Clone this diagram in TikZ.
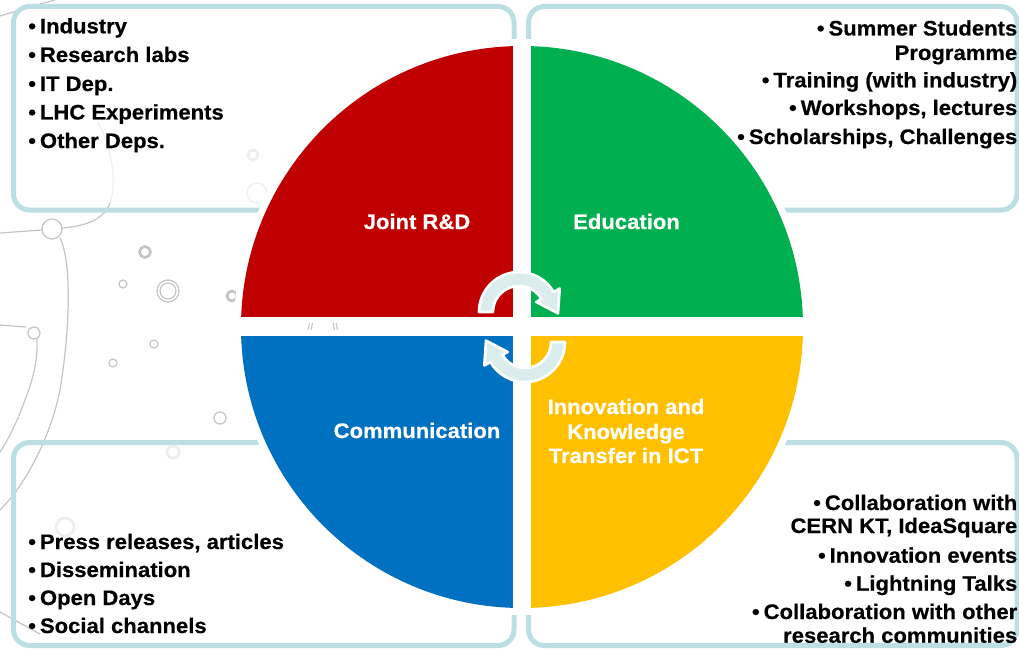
\documentclass[tikz,border=0pt]{standalone}
\usepackage{fontspec}
\setmainfont{Liberation Sans}[BoldFeatures={FakeStretch=1.05,FakeBold=0.5}]
\definecolor{qred}{HTML}{C00000}
\definecolor{qgreen}{HTML}{00B050}
\definecolor{qblue}{HTML}{0070C0}
\definecolor{qyellow}{HTML}{FFC000}
\definecolor{boxc}{HTML}{BBDFE2}
\definecolor{arrowc}{HTML}{DAECEC}
\definecolor{decoc}{HTML}{C4C4C4}
\definecolor{decofaint}{HTML}{EEEEEE}
\newcommand\labfont{\fontsize{15.75pt}{18pt}\selectfont\bfseries}
\newcommand\bulx{\textbullet\hspace{3pt}}
\begin{document}
\begin{tikzpicture}[x=0.75pt,y=-0.75pt,
  boxframe/.style={draw=boxc, line width=3.75pt, rounded corners=12pt},
  deco/.style={draw=decoc, line width=0.9pt},
  decothick/.style={draw=decoc, line width=2pt},
  decolight/.style={draw=decofaint, line width=2pt},
  bul/.style={font=\labfont, inner sep=0pt, text=black},
  qlab/.style={font=\labfont, inner sep=0pt, text=white, anchor=base},
  arrowsh/.style={fill=arrowc, draw=white, line width=2pt, line join=round}]
\useasboundingbox (0,0) rectangle (1019,649);

% background decoration
\draw[deco] (0,16) .. controls (20,10) and (40,4) .. (55,0);
\draw[deco] (0,233) -- (42,230);
\draw[deco] (52,229) circle[radius=10];
\draw[deco] (62,228) .. controls (85,226) and (104,220) .. (110,203);
\draw[draw=decofaint, line width=0.9pt] (110,203) .. controls (118,180) and (110,145) .. (98,122);
\draw[deco] (60,238) .. controls (72,262) and (70,330) .. (60,390) .. controls (52,430) and (30,480) .. (0,510);
\draw[deco] (0,325) -- (26,327);
\draw[deco] (34,333) circle[radius=6];
\draw[deco] (37,339) .. controls (38,360) and (33,380) .. (25,400) .. controls (18,420) and (8,440) .. (0,452);
\draw[deco] (0,612) -- (40,634);
\draw[decothick] (145,252) circle[radius=5.5];
\draw[deco] (123,284) circle[radius=4];
\draw[deco] (168,291) circle[radius=11];
\draw[deco] (168,291) circle[radius=8];
\draw[decothick] (232,296) circle[radius=5];
\draw[deco] (154,344) circle[radius=4];
\draw[deco] (113,363) circle[radius=4];
\draw[deco] (220,418) circle[radius=6];
\draw[decolight] (253,155) circle[radius=5];
\draw[draw=decofaint, line width=1pt] (257,193) circle[radius=10];
\draw[decolight] (173,452) circle[radius=6];
\draw[decolight] (65,527) circle[radius=9];

% frames
\draw[boxframe] (13.5,6.5) rectangle (514,210);
\draw[boxframe] (528.5,6.5) rectangle (1017,210);
\draw[boxframe] (13.5,442.5) rectangle (514,645.5);
\draw[boxframe] (528.5,442.5) rectangle (1017,645.5);

% circle
\fill[white] (522,327) circle[radius=288];
\fill[qred] (522,327) -- (241,327) arc[start angle=180, end angle=270, radius=281] -- cycle;
\fill[qgreen] (522,327) -- (522,46) arc[start angle=270, end angle=360, radius=281] -- cycle;
\fill[qyellow] (522,327) -- (803,327) arc[start angle=0, end angle=90, radius=281] -- cycle;
\fill[qblue] (522,327) -- (522,608) arc[start angle=90, end angle=180, radius=281] -- cycle;
\fill[white] (513.3,40) rectangle (530.7,614);
\fill[white] (232,317.3) rectangle (812,336);
\draw[decoc, line width=0.8pt] (308,330) -- (309.5,323) (311,330) -- (312.5,323);
\draw[decoc, line width=0.8pt] (333,323) -- (334.5,330) (336,323) -- (337.5,330);

% cycle arrows
\begin{scope}[shift={(519,312)}]
\path[arrowsh] (180:40) arc[start angle=180, end angle=330, radius=40] -- (330:47) -- (2:39) -- (330:20) -- (330:26) arc[start angle=330, end angle=180, radius=26] -- cycle;
\end{scope}
\begin{scope}[shift={(525,342)}]
\path[arrowsh] (0:40) arc[start angle=0, end angle=150, radius=40] -- (150:47) -- (182:39) -- (150:20) -- (150:26) arc[start angle=150, end angle=0, radius=26] -- cycle;
\end{scope}

% quadrant labels
\node[qlab] (jrd) at (417,229) {Joint R\&D};
\node[qlab] (edu) at (626.5,229) {Education};
\node[qlab] (com) at (417,438) {Communication};
\node[qlab] (ikt1) at (626,414) {Innovation and};
\node[qlab] (ikt2) at (626,439) {Knowledge};
\node[qlab] (ikt3) at (626,463) {Transfer in ICT};

% top-left list
\node[bul, anchor=base west] (tl1) at (28,33.3) {\bulx Industry};
\node[bul, anchor=base west] (tl2) at (28,62) {\bulx Research labs};
\node[bul, anchor=base west] (tl3) at (28,91) {\bulx IT Dep.};
\node[bul, anchor=base west] (tl4) at (28,119.5) {\bulx LHC Experiments};
\node[bul, anchor=base west] (tl5) at (28,148) {\bulx Other Deps.};

% top-right list
\node[bul, anchor=base east] (tr1) at (1017.5,35.5) {\bulx Summer Students};
\node[bul, anchor=base east] (tr2) at (1017.5,60) {Programme};
\node[bul, anchor=base east] (tr3) at (1017.5,87.3) {\bulx Training (with industry)};
\node[bul, anchor=base east] (tr4) at (1017.5,115) {\bulx Workshops, lectures};
\node[bul, anchor=base east] (tr5) at (1017.5,144) {\bulx Scholarships, Challenges};

% bottom-left list
\node[bul, anchor=base west] (bl1) at (28,549) {\bulx Press releases, articles};
\node[bul, anchor=base west] (bl2) at (28,577) {\bulx Dissemination};
\node[bul, anchor=base west] (bl3) at (28,605) {\bulx Open Days};
\node[bul, anchor=base west] (bl4) at (28,633) {\bulx Social channels};

% bottom-right list
\node[bul, anchor=base east] (br1) at (1017.5,510) {\bulx Collaboration with};
\node[bul, anchor=base east] (br2) at (1017.5,533) {CERN KT, IdeaSquare};
\node[bul, anchor=base east] (br3) at (1017.5,562.7) {\bulx Innovation events};
\node[bul, anchor=base east] (br4) at (1017.5,590.7) {\bulx Lightning Talks};
\node[bul, anchor=base east] (br5) at (1017.5,619) {\bulx Collaboration with other};
\node[bul, anchor=base east] (br6) at (1017.5,642.7) {research communities};
\end{tikzpicture}
\end{document}
